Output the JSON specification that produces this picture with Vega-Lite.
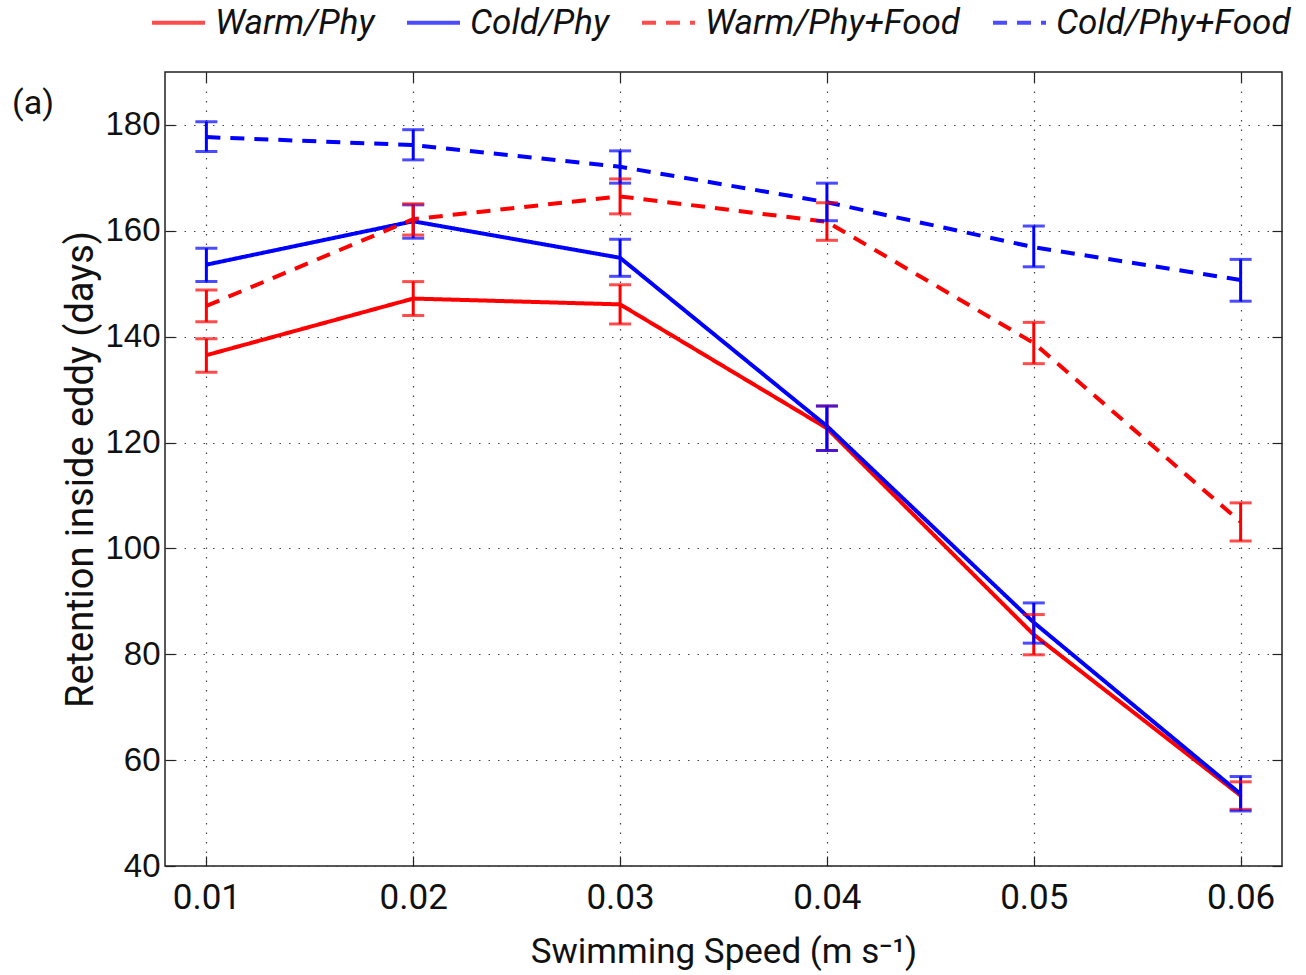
{
  "$schema": "https://vega.github.io/schema/vega-lite/v6.json",
  "width": 1117,
  "height": 794,
  "autosize": {"type": "none"},
  "padding": {"left": 165, "top": 72, "right": 24, "bottom": 109},
  "background": "white",
  "config": {
    "view": {"stroke": "#222222", "strokeWidth": 1.5},
    "font": "Roboto",
    "axis": {"domain": false, "tickColor": "#222222", "tickWidth": 1.2, "tickSize": -10},
    "legend": {"symbolType": "stroke"}
  },
  "data": {
    "values": [
      {"speed": 0.01, "series": "Warm/Phy", "value": 136.5, "lo": 133.3, "hi": 139.6},
      {"speed": 0.02, "series": "Warm/Phy", "value": 147.2, "lo": 144.0, "hi": 150.4},
      {"speed": 0.03, "series": "Warm/Phy", "value": 146.1, "lo": 142.4, "hi": 149.8},
      {"speed": 0.04, "series": "Warm/Phy", "value": 122.7, "lo": 118.5, "hi": 126.9},
      {"speed": 0.05, "series": "Warm/Phy", "value": 83.7, "lo": 79.9, "hi": 87.5},
      {"speed": 0.06, "series": "Warm/Phy", "value": 53.3, "lo": 50.7, "hi": 55.9},
      {"speed": 0.01, "series": "Cold/Phy", "value": 153.6, "lo": 150.4, "hi": 156.7},
      {"speed": 0.02, "series": "Cold/Phy", "value": 161.8, "lo": 158.6, "hi": 164.9},
      {"speed": 0.03, "series": "Cold/Phy", "value": 154.9, "lo": 151.4, "hi": 158.4},
      {"speed": 0.04, "series": "Cold/Phy", "value": 123.1, "lo": 118.5, "hi": 126.9},
      {"speed": 0.05, "series": "Cold/Phy", "value": 86.0, "lo": 82.1, "hi": 89.7},
      {"speed": 0.06, "series": "Cold/Phy", "value": 53.6, "lo": 50.4, "hi": 56.9},
      {"speed": 0.01, "series": "Warm/Phy+Food", "value": 145.8, "lo": 142.8, "hi": 148.8},
      {"speed": 0.02, "series": "Warm/Phy+Food", "value": 162.2, "lo": 159.2, "hi": 165.1},
      {"speed": 0.03, "series": "Warm/Phy+Food", "value": 166.5, "lo": 163.2, "hi": 169.8},
      {"speed": 0.04, "series": "Warm/Phy+Food", "value": 161.7, "lo": 158.2, "hi": 165.3},
      {"speed": 0.05, "series": "Warm/Phy+Food", "value": 138.8, "lo": 134.9, "hi": 142.7},
      {"speed": 0.06, "series": "Warm/Phy+Food", "value": 105.0, "lo": 101.4, "hi": 108.6},
      {"speed": 0.01, "series": "Cold/Phy+Food", "value": 177.7, "lo": 175.0, "hi": 180.6},
      {"speed": 0.02, "series": "Cold/Phy+Food", "value": 176.2, "lo": 173.4, "hi": 179.1},
      {"speed": 0.03, "series": "Cold/Phy+Food", "value": 172.1, "lo": 169.0, "hi": 175.1},
      {"speed": 0.04, "series": "Cold/Phy+Food", "value": 165.4, "lo": 161.9, "hi": 169.0},
      {"speed": 0.05, "series": "Cold/Phy+Food", "value": 156.9, "lo": 153.2, "hi": 160.9},
      {"speed": 0.06, "series": "Cold/Phy+Food", "value": 150.7, "lo": 146.7, "hi": 154.6}
    ]
  },
  "resolve": {"axis": {"x": "independent", "y": "independent"}},
  "layer": [
    {
      "mark": {"type": "line", "strokeWidth": 4},
      "encoding": {
        "x": {"field": "speed", "type": "quantitative",
          "scale": {"domain": [0.008, 0.062], "nice": false, "zero": false},
          "axis": {"orient": "bottom", "values": [0.01, 0.02, 0.03, 0.04, 0.05, 0.06], "format": ".2f",
            "title": "Swimming Speed (m s⁻¹)", "titleFontSize": 35, "titleFontWeight": "normal", "titleColor": "#111111", "titlePadding": 19,
            "labelFontSize": 35, "labelColor": "#111111", "labelPadding": 24,
            "grid": true, "gridColor": "#444444", "gridDash": [1.5, 8], "gridWidth": 1.2}},
        "y": {"field": "value", "type": "quantitative",
          "scale": {"domain": [40, 190], "nice": false, "zero": false},
          "axis": {"orient": "left", "values": [40, 60, 80, 100, 120, 140, 160, 180],
            "title": "Retention inside eddy (days)", "titleFontSize": 38, "titleFontWeight": "normal", "titleColor": "#111111", "titlePadding": 4,
            "labelFont": "Liberation Sans", "labelFontSize": 33, "labelColor": "#111111", "labelPadding": 15,
            "grid": true, "gridColor": "#444444", "gridDash": [1.5, 8], "gridWidth": 1.2}},
        "color": {"field": "series", "type": "nominal",
          "scale": {"domain": ["Warm/Phy", "Cold/Phy", "Warm/Phy+Food", "Cold/Phy+Food"], "range": ["#ff0000", "#0000ff", "#ff0000", "#0000ff"]},
          "legend": {"orient": "none", "legendX": -15, "legendY": -78, "direction": "horizontal", "title": null,
            "labelFontSize": 35, "labelFontStyle": "italic", "labelColor": "#111111", "labelOffset": 8, "labelLimit": 0,
            "symbolSize": 2809, "symbolStrokeWidth": 4, "columnPadding": 24}},
        "strokeDash": {"field": "series", "type": "nominal",
          "scale": {"domain": ["Warm/Phy", "Cold/Phy", "Warm/Phy+Food", "Cold/Phy+Food"], "range": [[1, 0], [1, 0], [14, 10], [14, 10]]},
          "legend": {"orient": "none", "legendX": -15, "legendY": -78, "direction": "horizontal", "title": null,
            "labelFontSize": 35, "labelFontStyle": "italic", "labelColor": "#111111", "labelOffset": 8, "labelLimit": 0,
            "symbolSize": 2809, "symbolStrokeWidth": 4, "columnPadding": 24}}
      }
    },
    {
      "mark": {"type": "rule", "strokeWidth": 3},
      "encoding": {
        "x": {"field": "speed", "type": "quantitative",
          "axis": {"orient": "top", "values": [0.01, 0.02, 0.03, 0.04, 0.05, 0.06], "labels": false, "title": null, "grid": false}},
        "y": {"field": "lo", "type": "quantitative",
          "axis": {"orient": "right", "values": [40, 60, 80, 100, 120, 140, 160, 180], "labels": false, "title": null, "grid": false}},
        "y2": {"field": "hi"},
        "color": {"field": "series", "type": "nominal"}
      }
    },
    {
      "mark": {"type": "tick", "orient": "horizontal", "size": 22, "thickness": 3},
      "encoding": {
        "x": {"field": "speed", "type": "quantitative", "axis": null},
        "y": {"field": "lo", "type": "quantitative", "axis": null},
        "color": {"field": "series", "type": "nominal"}
      }
    },
    {
      "mark": {"type": "tick", "orient": "horizontal", "size": 22, "thickness": 3},
      "encoding": {
        "x": {"field": "speed", "type": "quantitative", "axis": null},
        "y": {"field": "hi", "type": "quantitative", "axis": null},
        "color": {"field": "series", "type": "nominal"}
      }
    },
    {
      "data": {"values": [{"x": 0.008, "y": 184, "label": "(a)"}]},
      "mark": {"type": "text", "dx": -132, "align": "center", "baseline": "middle", "fontSize": 34, "font": "Roboto", "color": "#111111", "clip": false},
      "encoding": {
        "x": {"field": "x", "type": "quantitative", "axis": null},
        "y": {"field": "y", "type": "quantitative", "axis": null},
        "text": {"field": "label"}
      }
    }
  ]
}
